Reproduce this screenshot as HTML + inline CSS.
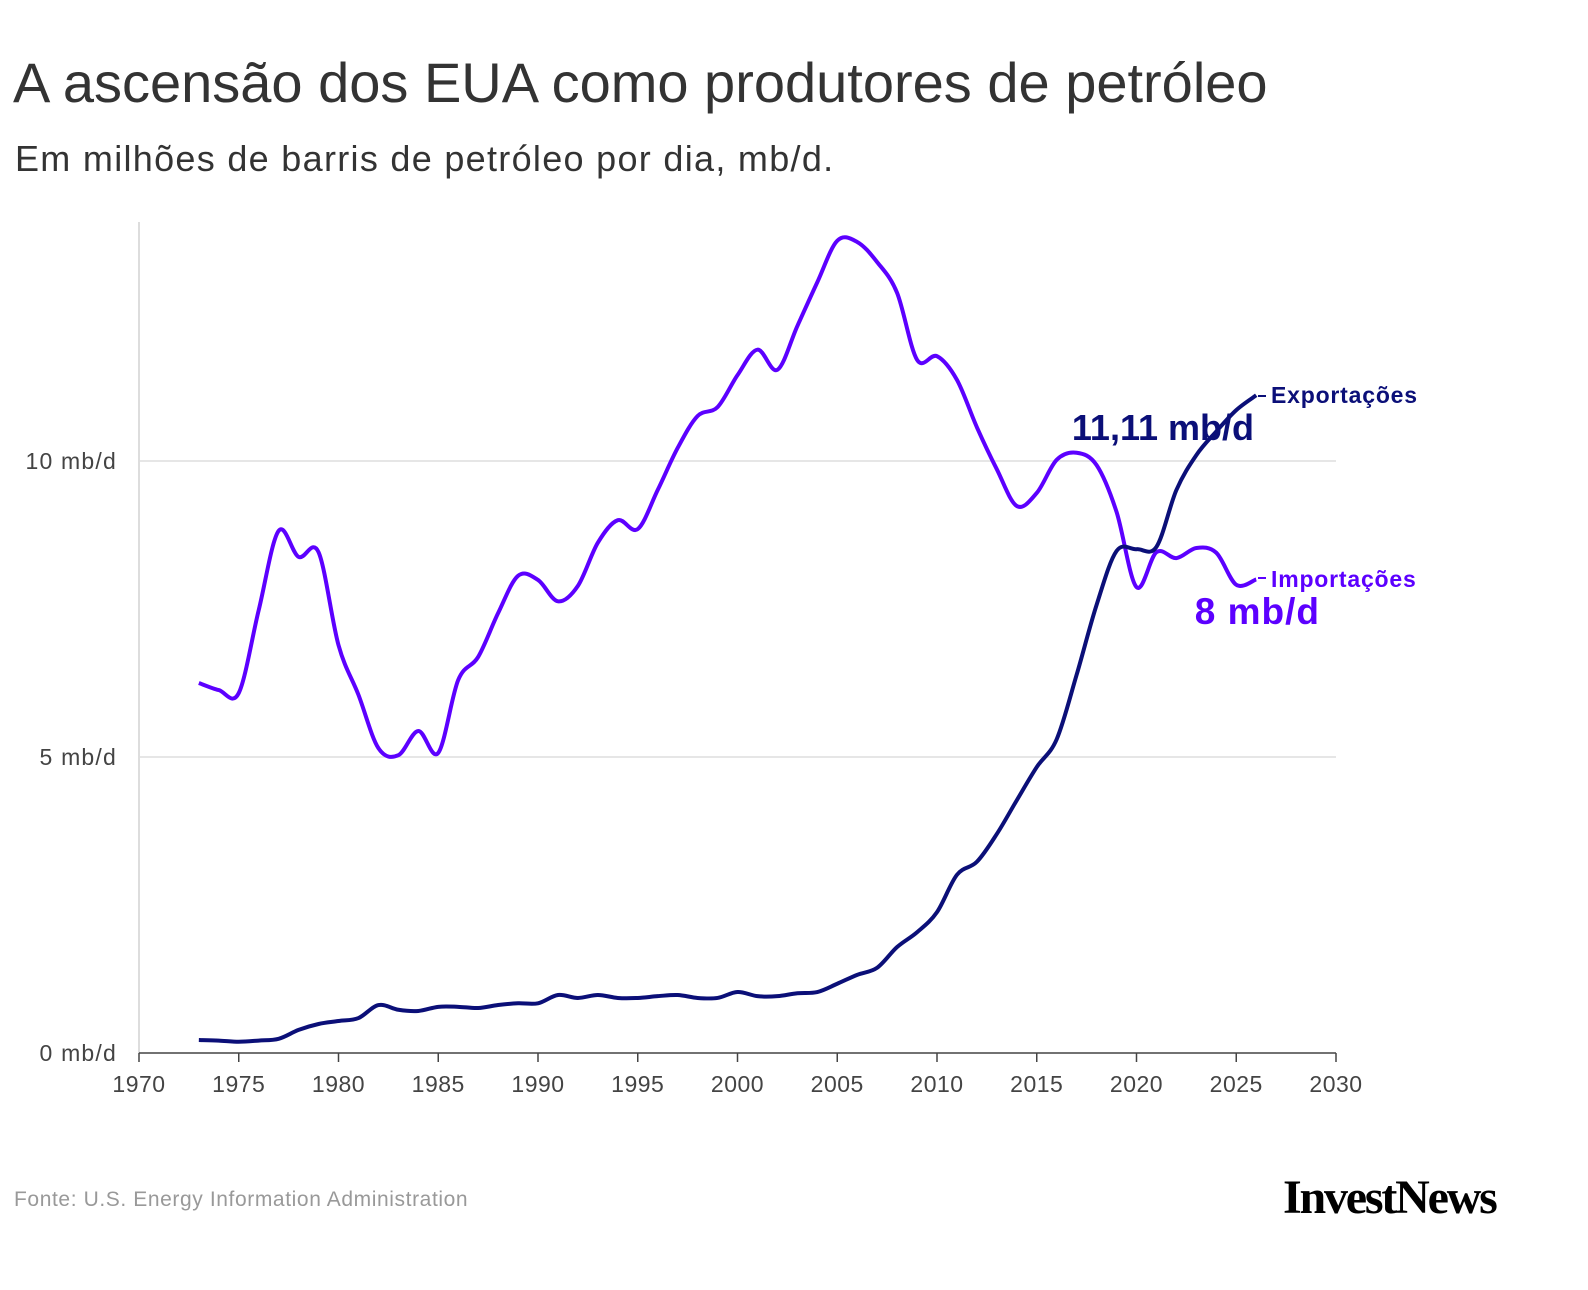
<!DOCTYPE html>
<html><head><meta charset="utf-8">
<style>
body{margin:0;background:#fff;width:1588px;height:1290px;overflow:hidden;font-family:"Liberation Sans",sans-serif;}
#title{position:absolute;left:13px;top:50px;font-size:56px;color:#333;letter-spacing:0px;}
#sub{position:absolute;left:15px;top:138px;font-size:36px;color:#333;letter-spacing:1.3px;}
#src{position:absolute;left:14px;top:1188px;font-size:21px;color:#999;letter-spacing:0.6px;}
#logo{position:absolute;left:1283px;top:1170px;font-family:"Liberation Serif",serif;font-weight:bold;font-size:48px;color:#000;letter-spacing:-2.2px;}
svg{position:absolute;left:0;top:0;}
</style></head><body>
<div id="title">A ascensão dos EUA como produtores de petróleo</div>
<div id="sub">Em milhões de barris de petróleo por dia, mb/d.</div>
<div id="src">Fonte: U.S. Energy Information Administration</div>
<div id="logo">InvestNews</div>
<svg id="chart" width="1588" height="1290"></svg>
<script>
const years=[1973,1974,1975,1976,1977,1978,1979,1980,1981,1982,1983,1984,1985,1986,1987,1988,1989,1990,1991,1992,1993,1994,1995,1996,1997,1998,1999,2000,2001,2002,2003,2004,2005,2006,2007,2008,2009,2010,2011,2012,2013,2014,2015,2016,2017,2018,2019,2020,2021,2022,2023,2024,2025,2026];
const imports=[6.25,6.13,6.08,7.48,8.82,8.38,8.46,6.89,6.05,5.15,5.03,5.44,5.07,6.30,6.69,7.43,8.06,7.99,7.63,7.89,8.62,9.00,8.85,9.51,10.22,10.76,10.91,11.45,11.88,11.54,12.28,13.02,13.72,13.70,13.36,12.84,11.71,11.77,11.37,10.57,9.86,9.24,9.46,10.02,10.14,9.93,9.14,7.87,8.46,8.36,8.53,8.45,7.91,8.0];
const exportsV=[0.22,0.21,0.19,0.21,0.24,0.39,0.49,0.54,0.59,0.81,0.73,0.71,0.78,0.78,0.76,0.81,0.84,0.84,0.98,0.93,0.98,0.93,0.93,0.96,0.98,0.93,0.93,1.03,0.96,0.96,1.01,1.03,1.17,1.32,1.44,1.79,2.04,2.38,3.01,3.23,3.70,4.27,4.83,5.30,6.39,7.57,8.48,8.51,8.55,9.51,10.1,10.5,10.86,11.11];
const xTicks=[1970,1975,1980,1985,1990,1995,2000,2005,2010,2015,2020,2025,2030];
const yTicks=[0,5,10];
const yTickLabels=["0 mb/d","5 mb/d","10 mb/d"];
const X=y=>139+(y-1970)*(1336-139)/60;
const Y=v=>1053-v*59.2;
const svg=document.getElementById('chart');
const NS='http://www.w3.org/2000/svg';
function mk(t,a){const e=document.createElementNS(NS,t);for(const k in a)e.setAttribute(k,a[k]);svg.appendChild(e);return e;}
yTicks.forEach((v,i)=>{
  if(v>0){const g=mk('line',{x1:139,x2:1336,y1:Y(v),y2:Y(v),stroke:'#e6e6e6','stroke-width':2});
  
  }
  const t=mk('text',{x:117,y:Y(v)+8,'text-anchor':'end','font-size':23,'letter-spacing':1.2,fill:'#444','font-family':'Liberation Sans, sans-serif'});
  t.textContent=yTickLabels[i];
  
  
});
const ya=mk('line',{x1:139,x2:139,y1:222,y2:1053,stroke:'#ddd','stroke-width':2});


const xa=mk('line',{x1:139,x2:1336,y1:1053,y2:1053,stroke:'#444','stroke-width':1.5});


xTicks.forEach(v=>{
  const l=mk('line',{x1:X(v),x2:X(v),y1:1053,y2:1062,stroke:'#444','stroke-width':1.5});
  
  
  const t=mk('text',{x:X(v),y:1092,'text-anchor':'middle','font-size':23,'letter-spacing':0.5,fill:'#444','font-family':'Liberation Sans, sans-serif'});
  t.textContent=v;
  
  
});
function path(vals){
  const p=years.map((y,i)=>[X(y),Y(vals[i])]);
  let d='M'+p[0][0]+','+p[0][1];
  for(let i=0;i<p.length-1;i++){
    const p0=p[Math.max(0,i-1)],p1=p[i],p2=p[i+1],p3=p[Math.min(p.length-1,i+2)];
    const c1=[p1[0]+(p2[0]-p0[0])/6,p1[1]+(p2[1]-p0[1])/6];
    const c2=[p2[0]-(p3[0]-p1[0])/6,p2[1]-(p3[1]-p1[1])/6];
    d+=`C${c1[0]},${c1[1]} ${c2[0]},${c2[1]} ${p2[0]},${p2[1]}`;
  }
  return d;
}
const li=mk('path',{d:path(imports),fill:'none',stroke:'#5c00ff','stroke-width':4,'stroke-linejoin':'round'});


const le=mk('path',{d:path(exportsV),fill:'none',stroke:'#0b0f78','stroke-width':4,'stroke-linejoin':'round'});


function lab(x,y,txt,col,size,name,anchor,ls){
  const t=mk('text',{x:x,y:y,'font-size':size,'font-weight':'bold','letter-spacing':ls||0,fill:col,'font-family':'Liberation Sans, sans-serif','text-anchor':anchor||'start'});
  t.textContent=txt;
  
  
}
const c1=mk('line',{x1:1258,y1:396,x2:1266,y2:396,stroke:'#0b0f78','stroke-width':2});


const c2=mk('line',{x1:1258,y1:578,x2:1266,y2:578,stroke:'#5c00ff','stroke-width':2});


lab(1271,403,'Exportações','#0b0f78',23,'exports-legend-label','start',0.8);
lab(1271,587,'Importações','#5c00ff',23,'imports-legend-label','start',0.8);
lab(1254,440,'11,11 mb/d','#0b0f78',36,'exports-value-label','end',0);
lab(1320,624,'8 mb/d','#5c00ff',37,'imports-value-label','end',1);
</script>
</body></html>
